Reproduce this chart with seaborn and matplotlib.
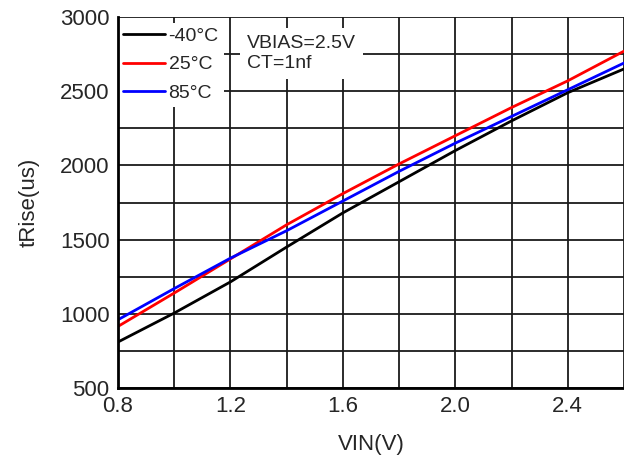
import matplotlib
matplotlib.use("Agg")
import matplotlib.pyplot as plt
import seaborn as sns
import pandas as pd
import numpy as np

vin = [0.8, 1.0, 1.2, 1.4, 1.6, 1.8, 2.0, 2.2, 2.4, 2.6]
t_m40 = [810, 1005, 1215, 1450, 1680, 1890, 2100, 2300, 2490, 2650]
t_25 = [915, 1140, 1370, 1600, 1810, 2010, 2200, 2390, 2570, 2770]
t_85 = [960, 1170, 1375, 1560, 1760, 1960, 2150, 2330, 2510, 2690]
labels = ["-40°C", "25°C", "85°C"]
colors = ["#000000", "#ff0000", "#0000ff"]
xticks = [0.8, 1.2, 1.6, 2.0, 2.4]
yticks = [500, 1000, 1500, 2000, 2500, 3000]

df = pd.concat([
    pd.DataFrame({"VIN": vin, "tRise": vals, "Temp": lab})
    for vals, lab in zip([t_m40, t_25, t_85], labels)
])

sns.set_style("white")
plt.rcParams["font.family"] = ["Liberation Sans", "DejaVu Sans"]

fig = plt.figure(figsize=(6.24, 4.66), dpi=100)
ax = fig.add_axes([118/624, 1-388/466, 1-118/624, (388-17)/466])

sns.lineplot(data=df, x="VIN", y="tRise", hue="Temp", palette=colors,
             hue_order=labels, linewidth=2, ax=ax, zorder=3)

ax.set_xlim(0.8, 2.6)
ax.set_ylim(500, 3000)
ax.set_xticks(xticks)
ax.set_xticklabels([f"{v:.1f}" for v in xticks])
ax.set_yticks(yticks)
ax.set_xticks(np.arange(0.8, 2.61, 0.2), minor=True)
ax.set_yticks(np.arange(500, 3001, 250), minor=True)
ax.grid(True, which="both", color="#1a1a1a", linewidth=1.3)
ax.tick_params(axis="both", which="both", length=0, labelsize=16)
ax.tick_params(axis="x", pad=6)
ax.tick_params(axis="y", pad=6)
for s in ["top", "right"]:
    ax.spines[s].set_visible(False)
for s in ["left", "bottom"]:
    ax.spines[s].set_linewidth(2)
    ax.spines[s].set_color("black")
    ax.spines[s].set_zorder(7)

ax.set_xlabel("VIN(V)", fontsize=16, labelpad=12)
ax.set_ylabel("tRise(us)", fontsize=16, labelpad=15)

leg = ax.legend(loc="upper left", frameon=True, fontsize=14, handlelength=2.15,
                handletextpad=0.2, borderaxespad=0.0, borderpad=0.25,
                labelspacing=0.55, fancybox=False,
                bbox_to_anchor=(0.0, 0.985))
leg.get_frame().set_facecolor("white")
leg.get_frame().set_edgecolor("none")
leg.get_frame().set_alpha(1)
leg.set_zorder(6)

ax.text(0.254, 0.952, "VBIAS=2.5V\nCT=1nf", transform=ax.transAxes, fontsize=14,
        va="top", ha="left", linespacing=1.25, zorder=6,
        bbox=dict(facecolor="white", edgecolor="none", pad=5))

fig.savefig("out.png", dpi=100)
